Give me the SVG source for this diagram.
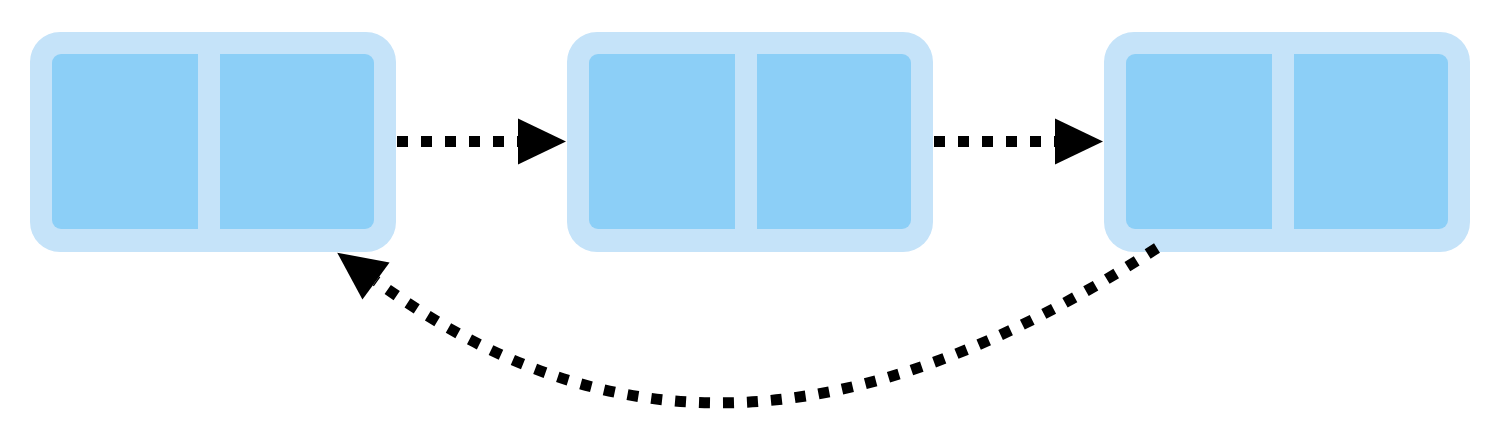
<svg xmlns="http://www.w3.org/2000/svg" width="1498" height="432" viewBox="0 0 1498 432">
<style>
.outer{fill:#c5e3f9}
.cell{fill:#8ccff7}
.conn{fill:none;stroke:#000;stroke-width:11;stroke-dasharray:11 13}
</style>
<defs>
<marker id="ah" markerUnits="userSpaceOnUse" markerWidth="48" markerHeight="46" refX="0" refY="23" orient="auto" overflow="visible">
<path d="M0,0 L48,23 L0,46 z" fill="#000"/>
</marker>
</defs>
<g id="node1"><rect class="outer" x="30" y="32" width="366" height="220" rx="30"/><path class="cell" d="M61,54 H198 V229 H61 a9,9 0 0 1 -9,-9 V63 a9,9 0 0 1 9,-9 z"/><path class="cell" d="M220,54 H365 a9,9 0 0 1 9,9 V220 a9,9 0 0 1 -9,9 H220 z"/></g>
<g id="node2"><rect class="outer" x="567" y="32" width="366" height="220" rx="30"/><path class="cell" d="M598,54 H735 V229 H598 a9,9 0 0 1 -9,-9 V63 a9,9 0 0 1 9,-9 z"/><path class="cell" d="M757,54 H902 a9,9 0 0 1 9,9 V220 a9,9 0 0 1 -9,9 H757 z"/></g>
<g id="node3"><rect class="outer" x="1104" y="32" width="366" height="220" rx="30"/><path class="cell" d="M1135,54 H1272 V229 H1135 a9,9 0 0 1 -9,-9 V63 a9,9 0 0 1 9,-9 z"/><path class="cell" d="M1294,54 H1439 a9,9 0 0 1 9,9 V220 a9,9 0 0 1 -9,9 H1294 z"/></g>
<g id="connectors">
<path class="conn" d="M397,141.5 H518" marker-end="url(#ah)"/>
<path class="conn" d="M934,141.5 H1055" marker-end="url(#ah)"/>
<path class="conn" d="M1157,248 C851,446 609,451 376,281" marker-end="url(#ah)"/>
</g>
</svg>
